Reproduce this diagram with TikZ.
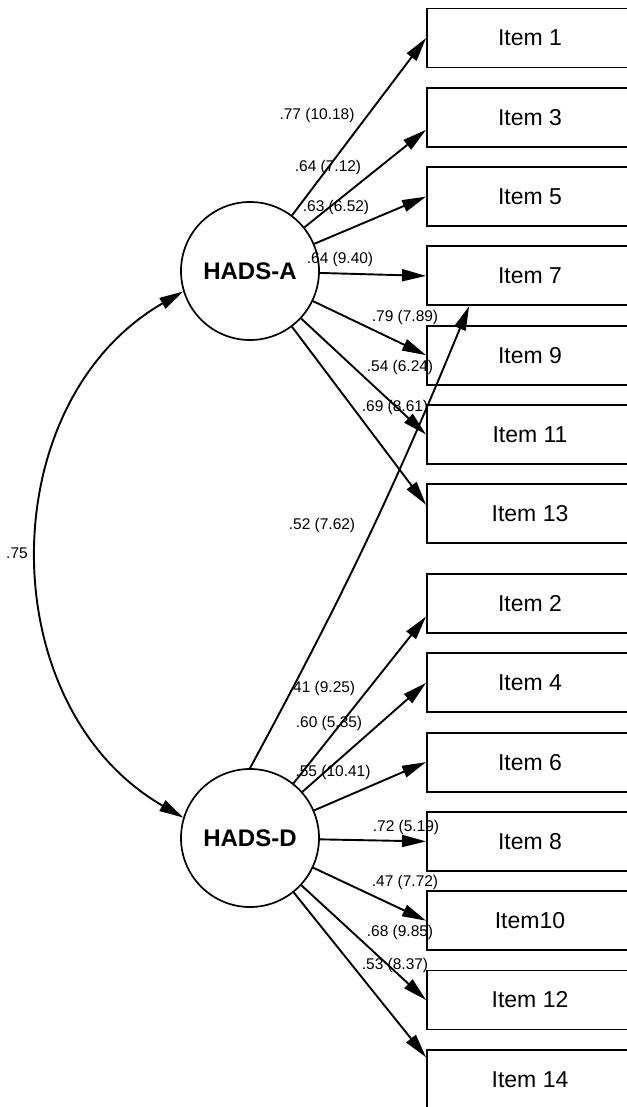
\documentclass[tikz,border=0pt]{standalone}
\usepackage{fontspec}
\setmainfont{Liberation Sans}
\usetikzlibrary{positioning,arrows.meta,calc}

\begin{document}
\begin{tikzpicture}[
    x=1pt, y=1pt,
    node distance=18.4pt,
    item/.style={draw, line width=1.9pt, minimum width=206pt, minimum height=59pt, font=\fontsize{23}{27}\selectfont},
    latent/.style={draw, circle, line width=1.7pt, minimum size=138pt, font=\bfseries\fontsize{24}{28}\selectfont},
    coef/.style={font=\fontsize{15.5}{18}\selectfont, inner sep=0pt},
    arr/.style={-{Triangle[length=24pt,width=12pt]}, line width=1.9pt},
    biarr/.style={{Triangle[length=24pt,width=12pt]}-{Triangle[length=24pt,width=12pt]}, line width=1.9pt}
]
\useasboundingbox (0,0) rectangle (626,-1107);

\node[latent] (hadsA) at (250,-271) {HADS-A};
\node[latent] (hadsD) at (250,-838) {HADS-D};

\node[item] (i1) at (530,-38) {Item 1};
\node[item, below=of i1] (i3) {Item 3};
\node[item, below=of i3] (i5) {Item 5};
\node[item, below=of i5] (i7) {Item 7};
\node[item, below=of i7] (i9) {Item 9};
\node[item, below=of i9] (i11) {Item 11};
\node[item, below=of i11] (i13) {Item 13};

\node[item, below=28.8pt of i13] (i2) {Item 2};
\node[item, below=of i2] (i4) {Item 4};
\node[item, below=of i4] (i6) {Item 6};
\node[item, below=of i6] (i8) {Item 8};
\node[item, below=of i8] (i10) {Item10};
\node[item, below=of i10] (i12) {Item 12};
\node[item, below=of i12] (i14) {Item 14};

% loadings
\node[coef] (lA1) at (317,-115) {.77 (10.18)};
\node[coef] (lA3) at (328,-167) {.64 (7.12)};
\node[coef] (lA5) at (336,-207) {.63 (6.52)};
\node[coef] (lA7) at (340,-259) {.64 (9.40)};
\node[coef] (lA9) at (405,-317) {.79 (7.89)};
\node[coef] (lA11) at (400,-367) {.54 (6.24)};
\node[coef] (lA13) at (395,-407) {.69 (8.61)};
\node[coef] (lD7) at (322,-525) {.52 (7.62)};
\node[coef] (lD2) at (322,-688) {.41 (9.25)};
\node[coef] (lD4) at (329,-723) {.60 (5.35)};
\node[coef] (lD6) at (333,-772) {.55 (10.41)};
\node[coef] (lD8) at (406,-827) {.72 (5.19)};
\node[coef] (lD10) at (405,-882) {.47 (7.72)};
\node[coef] (lD12) at (400,-932) {.68 (9.85)};
\node[coef] (lD14) at (395,-965) {.53 (8.37)};
\node[coef] (lAD) at (17,-553) {.75};

\draw[arr] (hadsA) -- (i1.west);
\draw[arr] (hadsA) -- ([yshift=-12.5pt]i3.west);
\draw[arr] (hadsA) -- (i5.west);
\draw[arr] (hadsA) -- (i7.west);
\draw[arr] (hadsA) -- (i9.west);
\draw[arr] (hadsA) -- (i11.west);
\draw[arr] (hadsA) -- ([yshift=9pt]i13.west);

\draw[arr] (hadsD.north) to[bend right=3] ([xshift=43pt]i7.south west);
\draw[arr] (hadsD) -- ([yshift=-13pt]i2.west);
\draw[arr] (hadsD) -- (i4.west);
\draw[arr] (hadsD) -- (i6.west);
\draw[arr] (hadsD) -- (i8.west);
\draw[arr] (hadsD) -- (i10.west);
\draw[arr] (hadsD) -- (i12.west);
\draw[arr] (hadsD) -- ([yshift=22pt]i14.west);

\draw[biarr] (hadsA.197) .. controls +(210:222) and +(150:222) .. (hadsD.163);
\end{tikzpicture}
\end{document}
